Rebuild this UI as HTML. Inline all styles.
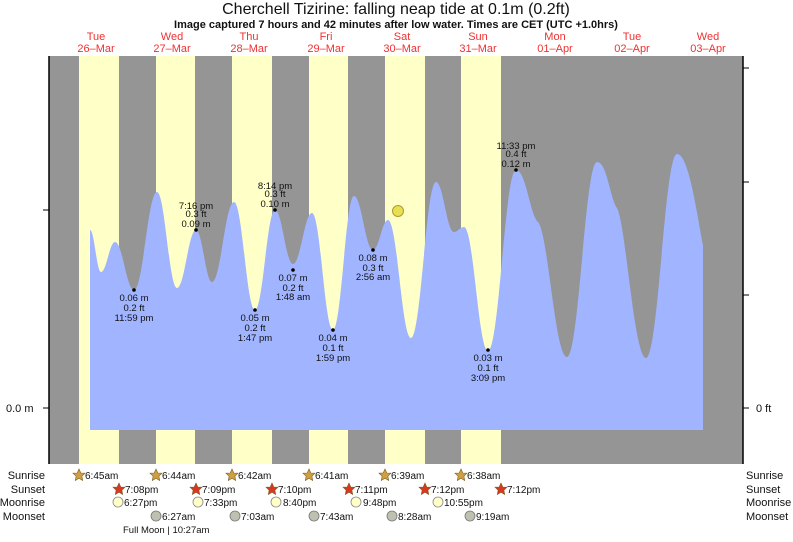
<!DOCTYPE html>
<html><head><meta charset="utf-8"><style>
body{margin:0;background:#fff;width:793px;height:537px;overflow:hidden}
svg text{font-family:"Liberation Sans",sans-serif}
</style></head><body>
<svg width="793" height="537" xmlns="http://www.w3.org/2000/svg">
<text x="396" y="14" font-size="16" text-anchor="middle" fill="#111">Cherchell Tizirine: falling  neap tide at 0.1m (0.2ft)</text>
<text x="396" y="28" font-size="11" font-weight="bold" text-anchor="middle" fill="#111">Image captured 7 hours and 42 minutes after low water. Times are CET (UTC +1.0hrs)</text>
<g font-size="11" fill="#f03030" text-anchor="middle">
<text x="96" y="40">Tue</text><text x="96" y="52">26–Mar</text>
<text x="172" y="40">Wed</text><text x="172" y="52">27–Mar</text>
<text x="249" y="40">Thu</text><text x="249" y="52">28–Mar</text>
<text x="326" y="40">Fri</text><text x="326" y="52">29–Mar</text>
<text x="402" y="40">Sat</text><text x="402" y="52">30–Mar</text>
<text x="478" y="40">Sun</text><text x="478" y="52">31–Mar</text>
<text x="555" y="40">Mon</text><text x="555" y="52">01–Apr</text>
<text x="632" y="40">Tue</text><text x="632" y="52">02–Apr</text>
<text x="708" y="40">Wed</text><text x="708" y="52">03–Apr</text>
</g>
<rect x="49" y="56" width="694" height="408" fill="#959595"/>
<g fill="#ffffc8">
<rect x="79" y="56" width="40" height="408"/><rect x="156" y="56" width="39" height="408"/>
<rect x="232" y="56" width="40" height="408"/><rect x="309" y="56" width="39" height="408"/>
<rect x="385" y="56" width="40" height="408"/><rect x="461" y="56" width="40" height="408"/>
</g>
<path fill="#a0b4ff" d="M90,230 C94.4,230 96.6,272 101,272 C106.6,272 109.4,242 115,242 C122.6,242 126.4,290 134,290 C143.2,290 147.8,192 157,192 C165,192 169,288 177,288 C184.6,288 188.4,230 196,230 C202.4,230 205.6,282 212,282 C220.8,282 225.2,202 234,202 C242.4,202 246.6,310 255,310 C263,310 267,210 275,210 C282.2,210 285.8,264 293,264 C300.6,264 304.4,213 312,213 C320.4,213 324.6,330 333,330 C341.4,330 345.6,196 354,196 C361.6,196 365.4,250 373,250 C379,250 382,220 388,220 C397.2,220 401.8,338 411,338 C421,338 426,182 436,182 C443.2,182 446.8,232 454,232 C458,232 460,227 464,227 C473.6,227 478.4,351 488,351 C499.2,351 504.8,170 516,170 C526,170 530,215 538,222 C548,232 555,357 567,357 C579,357 585,162 597,162 C607,162 610,198 617,208 C626,225 634,358 646,358 C658.4,358 664.6,154 677,154 C689,154 697,215 703,245 L703,430 L90,430 Z"/>
<line x1="49" y1="56" x2="49" y2="464" stroke="#000" stroke-width="1.5"/>
<line x1="743" y1="56" x2="743" y2="464" stroke="#000" stroke-width="1.5"/>
<g stroke="#000"><line x1="43" y1="210" x2="49" y2="210"/><line x1="43" y1="408" x2="49" y2="408"/>
<line x1="743" y1="68" x2="749" y2="68"/><line x1="743" y1="182" x2="749" y2="182"/><line x1="743" y1="295" x2="749" y2="295"/><line x1="743" y1="408" x2="749" y2="408"/></g>
<text x="6" y="412" font-size="11" fill="#111">0.0 m</text>
<text x="756" y="412" font-size="11" fill="#111">0 ft</text>
<circle cx="398" cy="211" r="5.5" fill="#e8e050" stroke="#b09a30"/>
<g font-size="9.5" fill="#111" text-anchor="middle">
<circle cx="134" cy="290" r="1.8" fill="#000"/><text x="134" y="301">0.06 m</text><text x="134" y="311">0.2 ft</text><text x="134" y="321">11:59 pm</text>
<circle cx="196" cy="230" r="1.8" fill="#000"/><text x="196" y="209">7:16 pm</text><text x="196" y="217">0.3 ft</text><text x="196" y="227">0.09 m</text>
<circle cx="255" cy="310" r="1.8" fill="#000"/><text x="255" y="321">0.05 m</text><text x="255" y="331">0.2 ft</text><text x="255" y="341">1:47 pm</text>
<circle cx="275" cy="210" r="1.8" fill="#000"/><text x="275" y="189">8:14 pm</text><text x="275" y="197">0.3 ft</text><text x="275" y="207">0.10 m</text>
<circle cx="293" cy="270" r="1.8" fill="#000"/><text x="293" y="281">0.07 m</text><text x="293" y="291">0.2 ft</text><text x="293" y="300">1:48 am</text>
<circle cx="333" cy="330" r="1.8" fill="#000"/><text x="333" y="341">0.04 m</text><text x="333" y="351">0.1 ft</text><text x="333" y="361">1:59 pm</text>
<circle cx="373" cy="250" r="1.8" fill="#000"/><text x="373" y="261">0.08 m</text><text x="373" y="271">0.3 ft</text><text x="373" y="280">2:56 am</text>
<circle cx="488" cy="350" r="1.8" fill="#000"/><text x="488" y="361">0.03 m</text><text x="488" y="371">0.1 ft</text><text x="488" y="381">3:09 pm</text>
<circle cx="516" cy="170" r="1.8" fill="#000"/><text x="516" y="149">11:33 pm</text><text x="516" y="157">0.4 ft</text><text x="516" y="167">0.12 m</text>
</g>
<g font-size="11" fill="#111">
<g text-anchor="end"><text x="45" y="479">Sunrise</text><text x="45" y="493">Sunset</text><text x="45" y="506">Moonrise</text><text x="45" y="520">Moonset</text></g>
<text x="746" y="479">Sunrise</text><text x="746" y="493">Sunset</text><text x="746" y="506">Moonrise</text><text x="746" y="520">Moonset</text>
</g>
<defs>
<polygon id="st" points="0,-6 1.8,-2 6,-1.8 2.9,1.2 3.7,5.5 0,3.2 -3.7,5.5 -2.9,1.2 -6,-1.8 -1.8,-2" stroke="#7a5a20" stroke-width="0.6"/>
</defs>
<g font-size="10" fill="#111">
<g fill="#d0a040"><use href="#st" x="79" y="475"/><use href="#st" x="156" y="475"/><use href="#st" x="232" y="475"/><use href="#st" x="309" y="475"/><use href="#st" x="385" y="475"/><use href="#st" x="461" y="475"/></g>
<text x="85" y="479">6:45am</text><text x="162" y="479">6:44am</text><text x="238" y="479">6:42am</text><text x="315" y="479">6:41am</text><text x="391" y="479">6:39am</text><text x="467" y="479">6:38am</text>
<g fill="#d83820"><use href="#st" x="119" y="489"/><use href="#st" x="196" y="489"/><use href="#st" x="272" y="489"/><use href="#st" x="349" y="489"/><use href="#st" x="425" y="489"/><use href="#st" x="501" y="489"/></g>
<text x="125" y="493">7:08pm</text><text x="202" y="493">7:09pm</text><text x="278" y="493">7:10pm</text><text x="355" y="493">7:11pm</text><text x="431" y="493">7:12pm</text><text x="507" y="493">7:12pm</text>
<g fill="#ffffc8" stroke="#888" stroke-width="0.8"><circle cx="118" cy="502" r="5"/><circle cx="198" cy="502" r="5"/><circle cx="276" cy="502" r="5"/><circle cx="356" cy="502" r="5"/><circle cx="438" cy="502" r="5"/></g>
<text x="124" y="506">6:27pm</text><text x="204" y="506">7:33pm</text><text x="283" y="506">8:40pm</text><text x="363" y="506">9:48pm</text><text x="444" y="506">10:55pm</text>
<g fill="#c0c0b0" stroke="#777" stroke-width="0.8"><circle cx="156" cy="516" r="5"/><circle cx="235" cy="516" r="5"/><circle cx="314" cy="516" r="5"/><circle cx="392" cy="516" r="5"/><circle cx="470" cy="516" r="5"/></g>
<text x="162" y="520">6:27am</text><text x="241" y="520">7:03am</text><text x="320" y="520">7:43am</text><text x="398" y="520">8:28am</text><text x="476" y="520">9:19am</text>
<text x="123" y="533" font-size="9.5">Full Moon | 10:27am</text>
</g>
</svg>
</body></html>
